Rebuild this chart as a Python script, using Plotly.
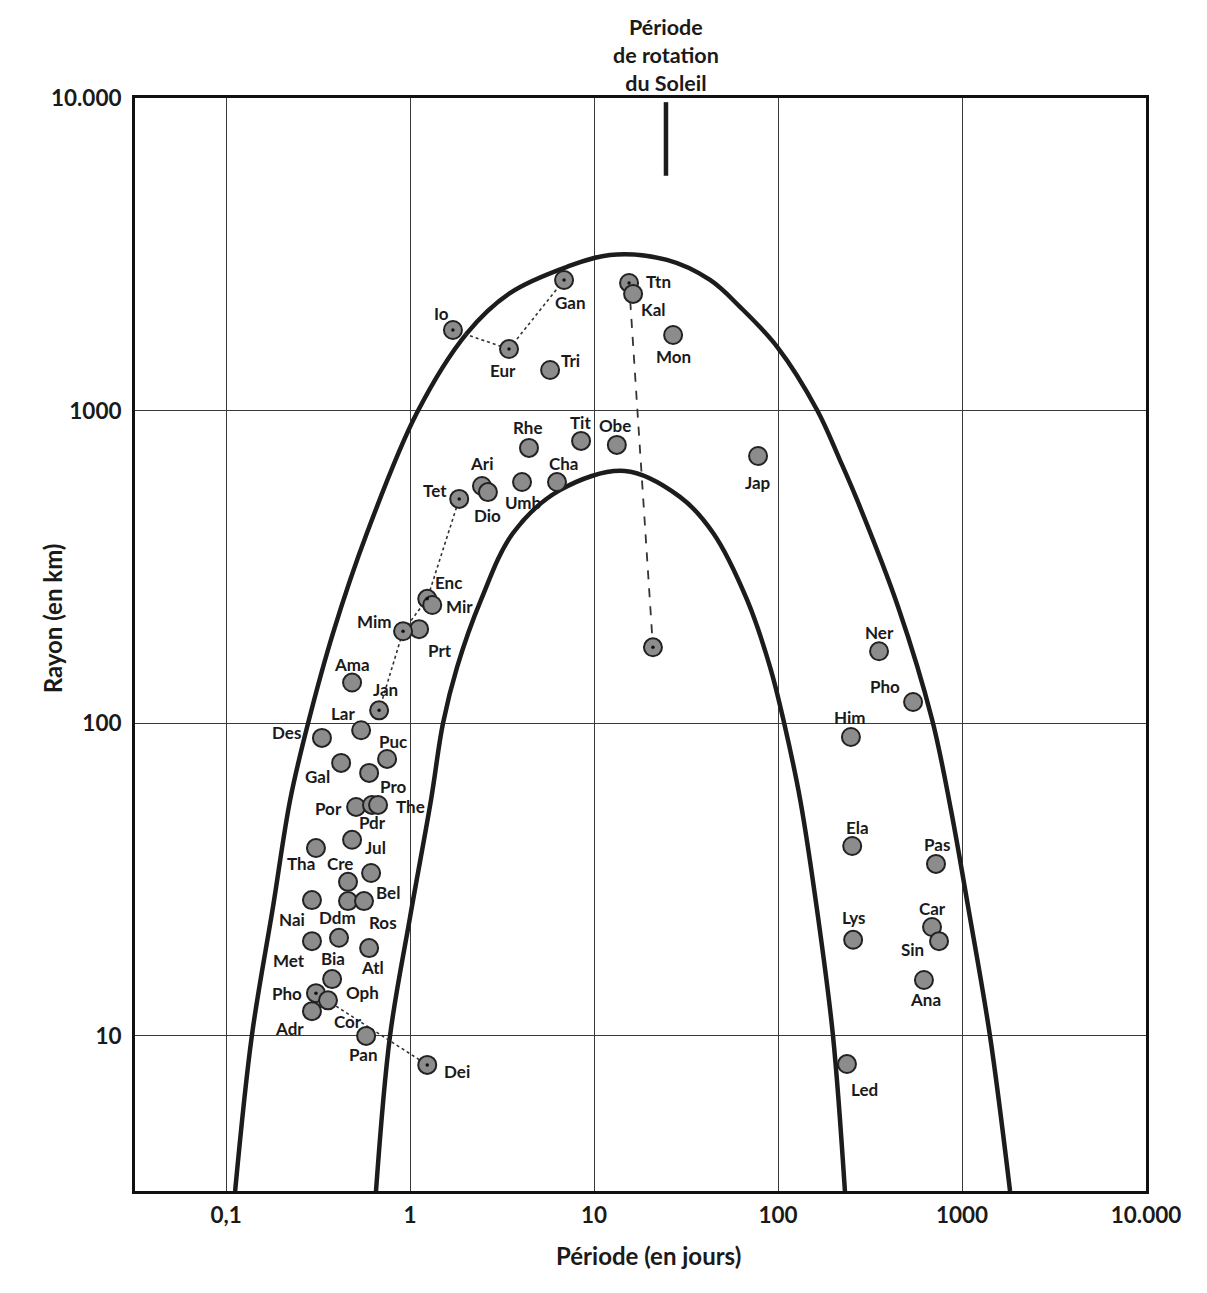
import numpy as np
import plotly.graph_objects as go

# ---------------- data ----------------
ids = ["Io", "Eur", "Gan", "Tri", "Ttn", "Kal", "Mon", "Rhe", "Tit", "Obe", "Jap",
       "Ari", "Dio", "Umb", "Cha", "Tet", "Enc", "Mir", "Prt", "Mim", "Hyp",
       "Ama", "Jan", "Lar", "Des", "Puc", "Gal", "Pro", "Por", "Pdr", "The",
       "Jul", "Tha", "Cre", "Bel", "Nai", "Ddm", "Ros", "Met", "Bia", "Atl",
       "Oph", "PhoM", "Cor", "Adr", "Pan", "Dei",
       "Ner", "PhoS", "Him", "Ela", "Pas", "Lys", "Car", "Sin", "Ana", "Led"]
labels = ["Io", "Eur", "Gan", "Tri", "Ttn", "Kal", "Mon", "Rhe", "Tit", "Obe", "Jap",
          "Ari", "Dio", "Umb", "Cha", "Tet", "Enc", "Mir", "Prt", "Mim", "",
          "Ama", "Jan", "Lar", "Des", "Puc", "Gal", "Pro", "Por", "Pdr", "The",
          "Jul", "Tha", "Cre", "Bel", "Nai", "Ddm", "Ros", "Met", "Bia", "Atl",
          "Oph", "Pho", "Cor", "Adr", "Pan", "Dei",
          "Ner", "Pho", "Him", "Ela", "Pas", "Lys", "Car", "Sin", "Ana", "Led"]
period_days = [1.71, 3.45, 6.87, 5.77, 15.5, 16.3, 26.9, 4.43, 8.50, 13.3, 77.9,
               2.46, 2.65, 4.06, 6.29, 1.85, 1.24, 1.32, 1.12, 0.916, 20.9,
               0.484, 0.679, 0.542, 0.332, 0.750, 0.422, 0.599, 0.509, 0.621, 0.670,
               0.484, 0.308, 0.460, 0.614, 0.293, 0.460, 0.562, 0.293, 0.411, 0.599,
               0.377, 0.308, 0.358, 0.293, 0.577, 1.24,
               354, 542, 249, 253, 722, 256, 687, 750, 621, 237]
radius_km = [1811, 1574, 2618, 1349, 2561, 2362, 1746, 760, 800, 777, 716,
             574, 549, 591, 591, 522, 250, 239, 200, 197, 175,
             135, 110, 95, 89.8, 76.9, 74.7, 69.4, 54.0, 54.8, 54.8,
             42.4, 39.9, 31.1, 33.2, 27.2, 27.0, 27.0, 20.1, 20.6, 19.1,
             15.2, 13.7, 13.0, 12.0, 10.0, 8.08,
             170, 117, 90.4, 40.5, 35.5, 20.3, 22.3, 20.1, 15.1, 8.13]

# satellites drawn with a central dot, and the linked groups
core_dot_ids = ["Io", "Eur", "Gan", "Ttn", "Hyp", "Tet", "Enc", "Mim", "Jan", "PhoM", "Dei"]
dotted_chains = [["Io", "Eur", "Gan"], ["Jan", "Mim", "Enc", "Tet"], ["PhoM", "Dei"]]
dashed_chain = ["Ttn", "Hyp"]

outer_period = [0.112, 0.138, 0.180, 0.223, 0.279, 0.382, 0.583, 1.09, 2.04, 3.49, 7.13,
                12.2, 24.9, 42.7, 62.1, 98.9, 163, 217, 269, 449, 687, 871, 1079, 1419, 1824]
outer_radius = [3.19, 10.0, 25.9, 56.9, 100, 195, 406, 984, 1770, 2377, 2884,
                3148, 3034, 2618, 2148, 1600, 1005, 695, 518, 236, 103, 52.8, 25.9, 10.0, 3.19]
inner_period = [0.653, 0.778, 1.0, 1.30, 1.51, 1.80, 2.43, 3.63, 6.53, 14.7, 29.3,
                44.4, 67.9, 90.6, 108, 132, 165, 199, 231]
inner_radius = [3.19, 10.0, 24.0, 56.9, 100, 151, 248, 406, 557, 641, 530,
                406, 248, 151, 100, 56.9, 24.0, 10.0, 3.19]

# rotation period of the Sun (marker bar)
sun_period = 24.6
sun_bar_radius = [9700, 5640]
sun_title = "Période<br>de rotation<br>du Soleil"

x_tickvals = [0.1, 1, 10, 100, 1000, 10000]
x_ticktext = ["0,1", "1", "10", "100", "1000", "10.000"]
y_tickvals = [10, 100, 1000, 10000]
y_ticktext = ["10", "100", "1000", "10.000"]

# label offsets from each marker, in screen pixels (style)
label_dx = [-11, -6, 6, 20, 29, 20, 0, -1, -1, -2, 0,
            0, 0, 1, 6, -24, 21, 27, 21, -29, 0,
            0, 6, -18, -35, 6, -24, 24, -28, 1, 32,
            23, -15, -8, 17, -20, -11, 19, -23, -6, 3,
            30, -29, 20, -22, -3, 30,
            0, -28, -1, 5, 1, 1, 0, -27, 2, 18]
label_dy = [-17, 21, 23, -10, -1, 16, 22, -20, -18, -19, 26,
            -23, 23, 20, -19, -8, -16, 2, 21, -10, 0,
            -18, -21, -17, -5, -17, 14, 14, 2, 18, 2,
            8, 15, -18, 19, 19, 16, 21, 19, 21, 19,
            13, 0, 21, 17, 19, 7,
            -19, -15, -19, -19, -19, -22, -19, 8, 20, 25]

# ---------------- figure ----------------
FONT = "Lato, 'Open Sans', sans-serif"
INK = "#1c1c1c"
TXT = "#1a1a1a"
idx = {k: i for i, k in enumerate(ids)}

fig = go.Figure()

# limiting curves
for px_, ry_ in [(outer_period, outer_radius), (inner_period, inner_radius)]:
    fig.add_trace(go.Scatter(x=px_, y=ry_, mode="lines",
                             line=dict(color=INK, width=4.5, shape="spline", smoothing=1.0),
                             hoverinfo="skip", showlegend=False))

# Sun rotation bar
fig.add_trace(go.Scatter(x=[sun_period, sun_period], y=sun_bar_radius, mode="lines",
                         line=dict(color=INK, width=4.5), hoverinfo="skip", showlegend=False))

# dotted links
for chain in dotted_chains:
    fig.add_trace(go.Scatter(x=[period_days[idx[c]] for c in chain],
                             y=[radius_km[idx[c]] for c in chain],
                             mode="lines", line=dict(color="#333333", width=1.6, dash="dot"),
                             hoverinfo="skip", showlegend=False))
# dashed link
fig.add_trace(go.Scatter(x=[period_days[idx[c]] for c in dashed_chain],
                         y=[radius_km[idx[c]] for c in dashed_chain],
                         mode="lines", line=dict(color="#333333", width=1.8, dash="dash"),
                         hoverinfo="skip", showlegend=False))

# satellites
fig.add_trace(go.Scatter(x=period_days, y=radius_km, mode="markers",
                         marker=dict(size=18, color="#8c8c8c",
                                     line=dict(color="#222222", width=2)),
                         text=labels, cliponaxis=False, showlegend=False))

# central dots
fig.add_trace(go.Scatter(x=[period_days[idx[c]] for c in core_dot_ids],
                         y=[radius_km[idx[c]] for c in core_dot_ids],
                         mode="markers", marker=dict(size=3.5, color="#111111"),
                         hoverinfo="skip", showlegend=False))

# satellite labels
for lab, p, r, dx, dy in zip(labels, period_days, radius_km, label_dx, label_dy):
    if not lab:
        continue
    fig.add_annotation(x=np.log10(p), y=np.log10(r), xref="x", yref="y",
                       text=lab, showarrow=False, xanchor="center", yanchor="middle",
                       xshift=dx, yshift=-dy,
                       font=dict(family=FONT, size=17, color=TXT, weight="bold"))

# title over the Sun bar
fig.add_annotation(x=np.log10(sun_period), y=1.0, xref="x", yref="paper",
                   xanchor="center", yanchor="bottom", yshift=0,
                   text=sun_title, showarrow=False, align="center",
                   font=dict(family=FONT, size=21.5, color=TXT, weight="bold"))

fig.add_annotation(x=0.5084, y=-0.0586, xref="paper", yref="paper",
                   xanchor="center", yanchor="middle",
                   text="Période (en jours)", showarrow=False,
                   font=dict(family=FONT, size=24, color=TXT, weight="bold"))
fig.add_annotation(x=-0.0821, y=0.524, xref="paper", yref="paper",
                   xanchor="center", yanchor="middle",
                   text="Rayon (en km)", showarrow=False, textangle=-90,
                   font=dict(family=FONT, size=24, color=TXT, weight="bold"))

axis_common = dict(type="log", showgrid=True, gridcolor="#3a3a3a", gridwidth=1.3,
                   zeroline=False, showline=True, mirror=True, linecolor="#111111",
                   linewidth=3, ticks="", tickmode="array",
                   tickfont=dict(family=FONT, size=22.5, color=TXT, weight="bold"))

fig.update_xaxes(range=[-1.495, 4.0], tickvals=x_tickvals, ticktext=x_ticktext,
                 ticklabelstandoff=2, **axis_common)
fig.update_yaxes(range=[0.504, 4.0], tickvals=y_tickvals, ticktext=y_ticktext,
                 ticklabelstandoff=6, **axis_common)

fig.update_layout(width=1191, height=1277,
                  margin=dict(l=127, r=53, t=90, b=94),
                  paper_bgcolor="white", plot_bgcolor="white",
                  showlegend=False, hovermode="closest")

fig.write_html("out.html")
